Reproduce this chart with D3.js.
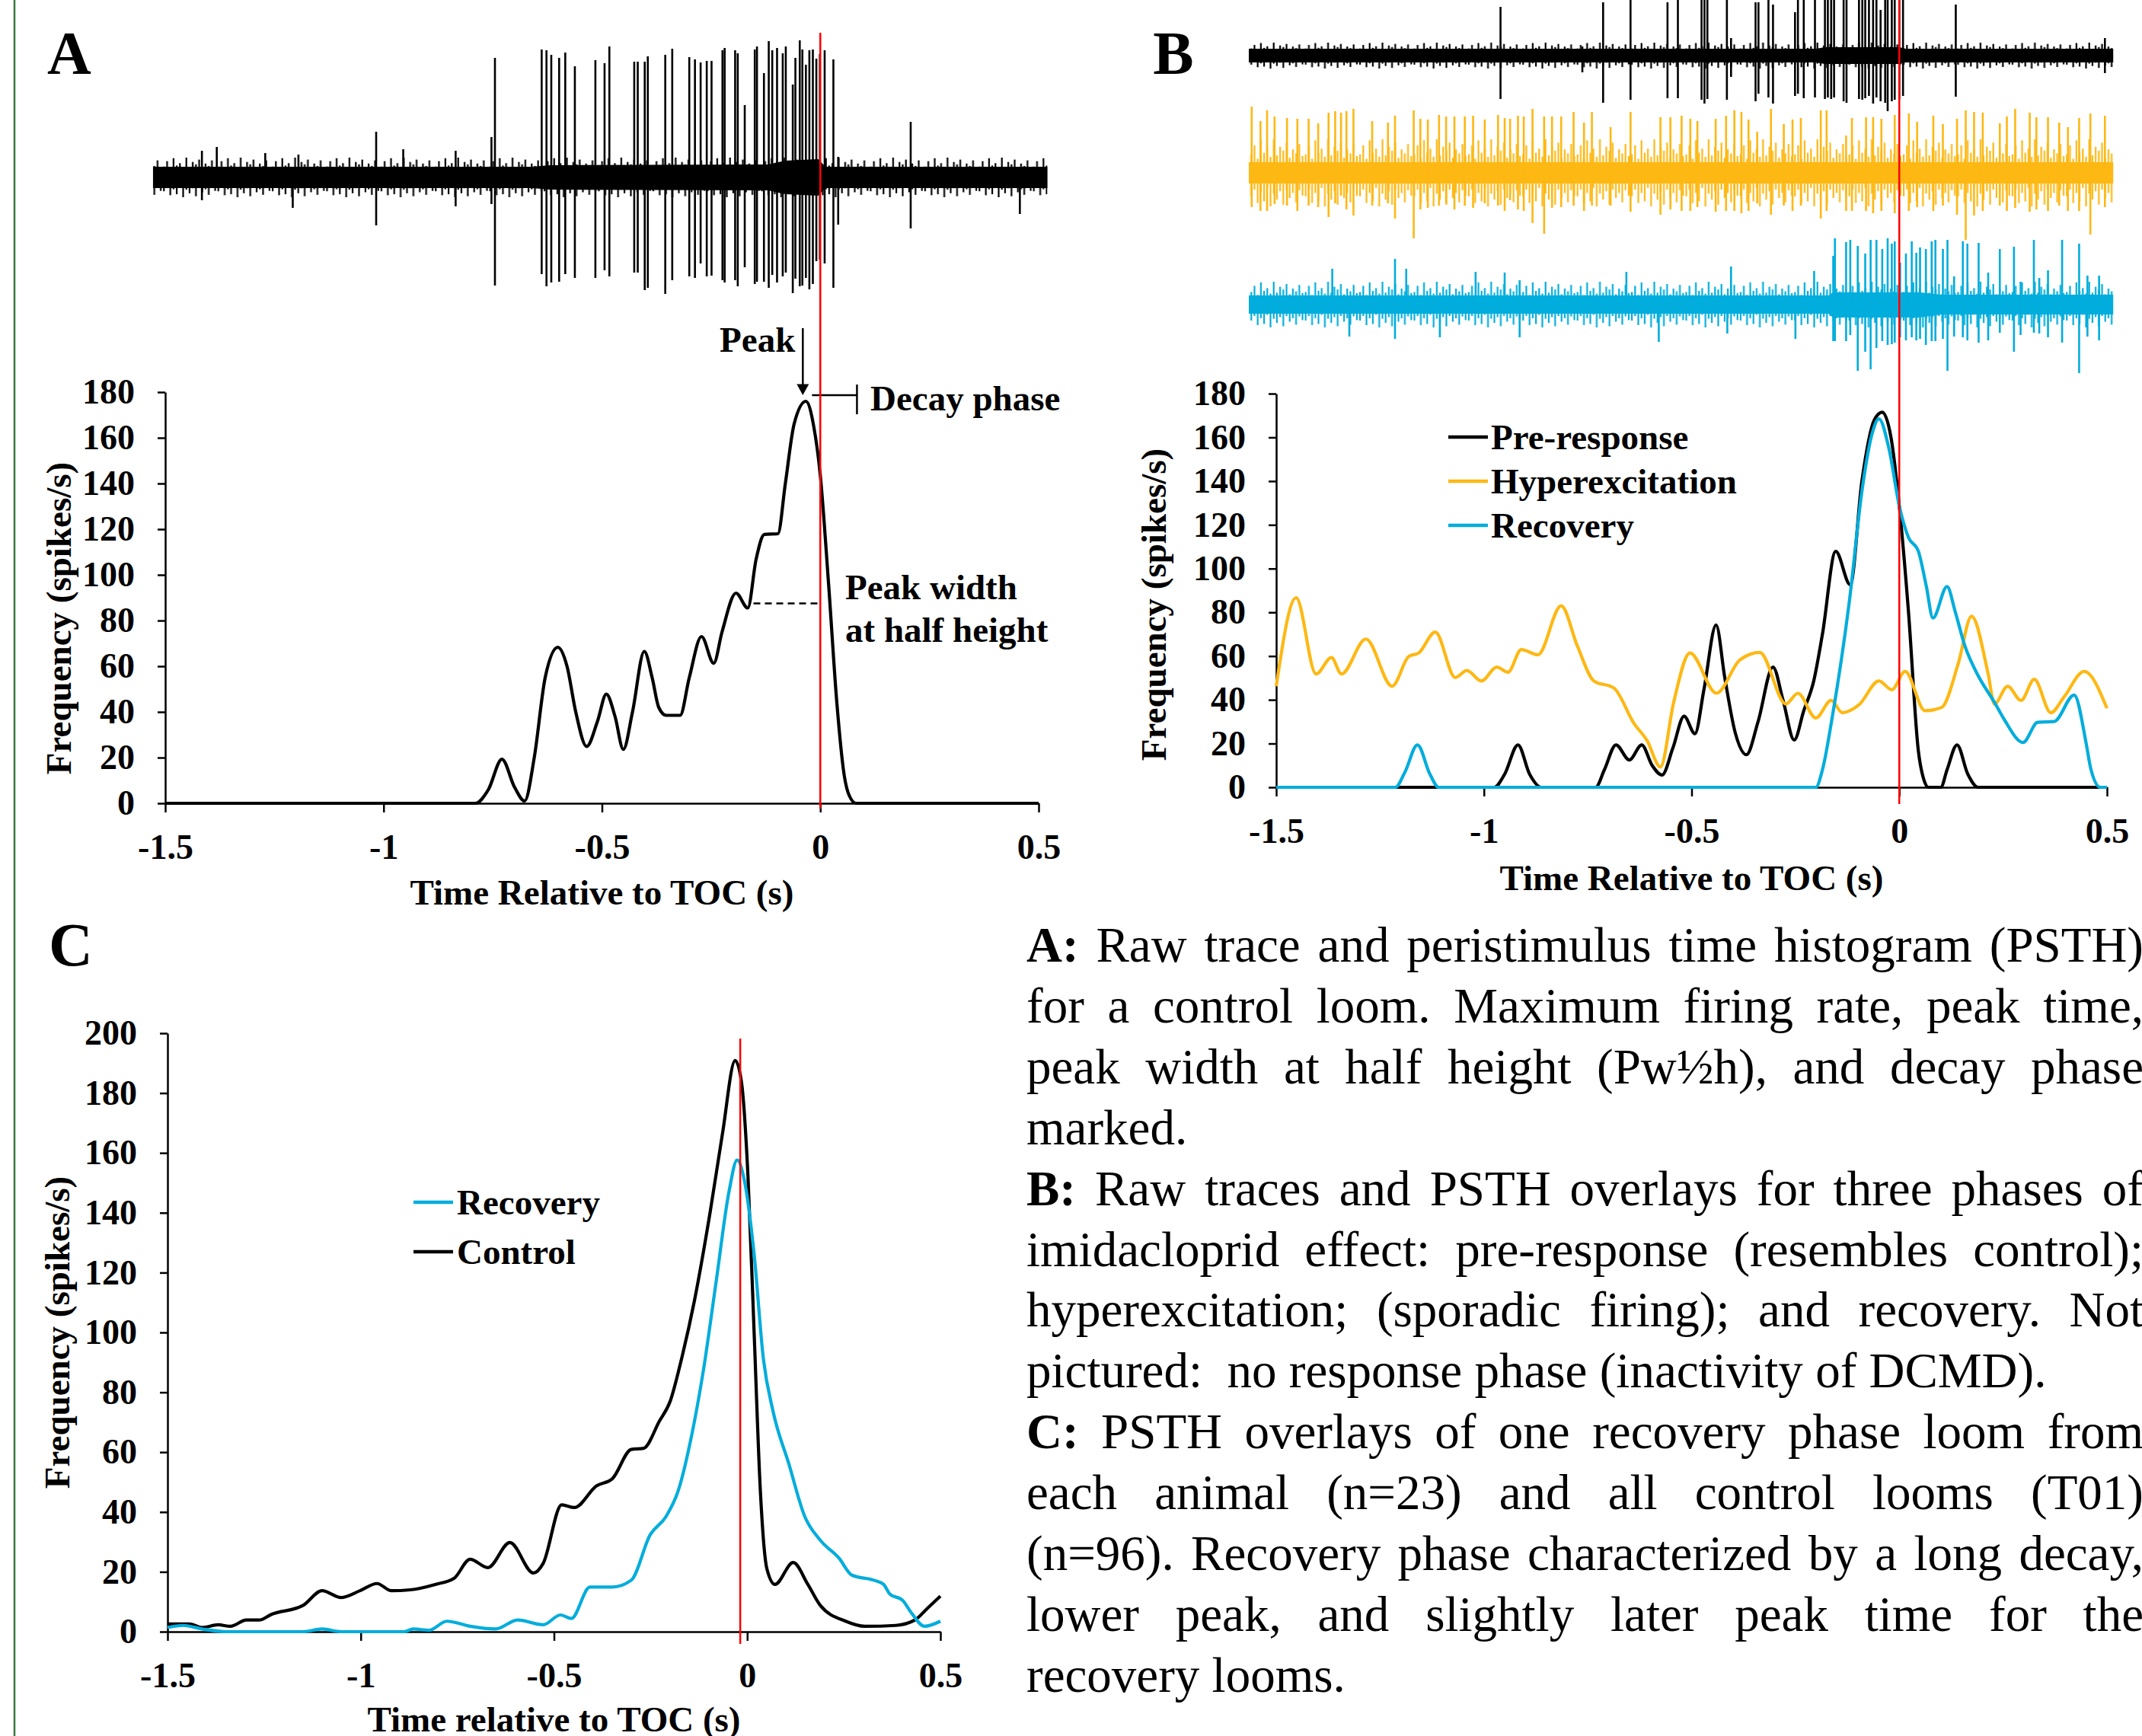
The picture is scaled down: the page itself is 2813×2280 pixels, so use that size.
<!DOCTYPE html>
<html><head><meta charset="utf-8">
<script src="https://cdn.jsdelivr.net/npm/d3@7"></script>
<style>
body{margin:0;background:#fff}
svg{display:block;background:#fff}
text{font-family:"Liberation Serif","Times New Roman",serif;fill:#000}
</style>
</head><body>
<svg id="fig" width="2813" height="2280"></svg>
<script>
// ---------------- DATA ----------------
const xTickVals = [-1.5, -1, -0.5, 0, 0.5];
const xTickLabels = ["-1.5", "-1", "-0.5", "0", "0.5"];
const yTicksAB = [0, 20, 40, 60, 80, 100, 120, 140, 160, 180];
const yTicksC = [0, 20, 40, 60, 80, 100, 120, 140, 160, 180, 200];

// Panel A PSTH (control loom)
const psthA_t = [-1.5,-0.79,-0.76,-0.729,-0.70,-0.677,-0.655,-0.63,-0.601,-0.58,-0.56,-0.535,-0.51,-0.49,-0.47,-0.451,-0.43,-0.403,-0.385,-0.37,-0.353,-0.321,-0.30,-0.272,-0.244,-0.225,-0.193,-0.166,-0.147,-0.128,-0.097,-0.08,-0.06,-0.033,-0.015,0,0.019,0.038,0.055,0.066,0.082,0.5];
const psthA_f = [0,0,6,19.3,7,1,20,55,68.3,60,40,24.9,36,47.8,38,23.6,40,66.5,55,42,38.5,38.5,55,73,61.3,75,92,85.5,106.8,117.7,118,140,166,176,165,143.6,96,43.8,12,3.5,0,0];

// Panel B PSTHs
const preB_t = [-1.5,-0.975,-0.95,-0.918,-0.89,-0.862,-0.731,-0.71,-0.682,-0.65,-0.62,-0.595,-0.571,-0.545,-0.518,-0.492,-0.47,-0.441,-0.42,-0.395,-0.368,-0.34,-0.304,-0.28,-0.253,-0.23,-0.206,-0.185,-0.153,-0.118,-0.09,-0.06,-0.041,-0.02,0,0.022,0.046,0.06,0.07,0.1,0.115,0.139,0.165,0.19,0.5];
const preB_f = [0,0,6,19.4,6,0,0,8,19.4,12.5,19.4,10,5.6,18,32.5,24.5,45,74.2,50,25,14.9,30,55,40,21.6,35,48.6,70,107.9,92.6,140,168,171.5,160,128.7,80.6,16.5,3,0,0,8,19.4,6,0,0];
const hypB_t = [-1.5,-1.452,-1.404,-1.367,-1.343,-1.284,-1.221,-1.181,-1.157,-1.117,-1.069,-1.041,-1.006,-0.969,-0.942,-0.91,-0.87,-0.814,-0.775,-0.735,-0.687,-0.639,-0.607,-0.575,-0.543,-0.504,-0.44,-0.384,-0.336,-0.273,-0.244,-0.201,-0.164,-0.137,-0.097,-0.049,-0.018,0.014,0.062,0.102,0.142,0.174,0.214,0.229,0.261,0.293,0.325,0.365,0.397,0.445,0.5];
const hypB_f = [46.2,86.7,51.8,59.3,51.8,67.8,46.2,59.8,61.4,71,50.2,53.4,48.6,55,52.6,63,60.6,83,64.6,48.6,45.4,29.3,21.3,9.3,39,61.4,43,58.2,61.7,38.1,43,31.7,39.7,34.1,37.7,48.6,44.6,53,35,36.5,56.6,78.2,51.8,38.1,46.2,39.7,49.4,34.1,41.4,53,36.1];
const recB_t = [-1.5,-1.213,-1.19,-1.16,-1.13,-1.109,-0.201,-0.185,-0.161,-0.121,-0.089,-0.065,-0.049,-0.025,0,0.022,0.046,0.065,0.081,0.115,0.135,0.158,0.19,0.229,0.253,0.298,0.333,0.373,0.421,0.45,0.461,0.484,0.5];
const recB_f = [0,0,7,19.4,6,0,0,8,32.5,83.8,136.7,162,168.5,155,128.7,114.3,107.9,92,77.4,91.8,80,64.6,51,38.9,30.9,20.5,29.7,30.1,42.2,20,8.5,0,0];

// Panel C PSTHs
const ctrlC_t = [-1.5,-1.443,-1.41,-1.369,-1.337,-1.296,-1.263,-1.231,-1.149,-1.1,-1.051,-1.002,-0.958,-0.921,-0.872,-0.807,-0.758,-0.717,-0.671,-0.614,-0.553,-0.528,-0.48,-0.447,-0.39,-0.349,-0.3,-0.268,-0.227,-0.199,-0.17,-0.137,-0.096,-0.064,-0.031,-0.015,0.002,0.018,0.034,0.051,0.072,0.119,0.157,0.189,0.255,0.304,0.385,0.434,0.467,0.5];
const ctrlC_f = [2.6,2.6,1.4,2.3,1.8,3.9,3.9,5.8,8.8,13.7,11.4,13.7,16.1,13.7,14,15.8,17.9,24.2,21.4,29.8,19.6,22.8,42.4,41.5,48.7,51.1,60.9,61.3,70.4,77.1,91.1,110.3,140.1,166.4,190.9,183.9,152.4,99.8,47.3,21,15.8,23.1,15.8,8.8,3.5,1.8,2.1,3.9,7.9,11.9];
const recC_t = [-1.5,-1.459,-1.41,-1.345,-1.149,-1.1,-1.051,-0.888,-0.864,-0.823,-0.777,-0.717,-0.651,-0.594,-0.528,-0.483,-0.455,-0.407,-0.349,-0.3,-0.251,-0.21,-0.178,-0.145,-0.113,-0.08,-0.047,-0.026,-0.007,0.018,0.042,0.067,0.108,0.149,0.189,0.238,0.271,0.328,0.353,0.369,0.402,0.426,0.459,0.5];
const recC_f = [1.4,2.1,0.9,0,0,0.9,0,0,0.9,0.5,3.5,1.8,0.9,3.9,2.3,5.6,4.4,14.9,14.9,17.2,32.4,38.5,47.3,64.8,87.6,117.3,147.1,157.6,150.6,126.1,91.1,73.6,56,38.5,30.6,24.5,18.9,17.2,15.8,12.6,10.5,6.1,1.8,3.5];

// Raw traces: spike times (s re TOC), up / down amplitudes (a.u.), solid-core envelopes, noise extent
const trA_t = [-1.416,-1.382,-1.271,-1.208,-1.195,-1.017,-0.955,-0.835,-0.753,-0.745,-0.638,-0.627,-0.616,-0.598,-0.584,-0.562,-0.515,-0.494,-0.483,-0.426,-0.418,-0.402,-0.395,-0.355,-0.339,-0.300,-0.287,-0.274,-0.260,-0.249,-0.224,-0.219,-0.195,-0.189,-0.173,-0.150,-0.145,-0.129,-0.118,-0.110,-0.099,-0.086,-0.079,-0.063,-0.057,-0.047,-0.041,-0.033,-0.025,-0.017,-0.009,-0.001,0.010,0.030,0.041,0.207,0.457];
const trA_up = [35,40,32,0,30,60,37,35,53,157,168,167,161,157,164,146,154,150,172,152,152,152,159,161,169,158,155,151,153,153,167,170,167,163,95,168,172,137,179,167,170,163,172,122,157,180,168,148,167,168,156,162,167,155,27,73,0];
const trA_dn = [30,0,0,40,0,63,0,38,35,142,127,143,138,137,127,132,132,122,130,125,125,148,145,153,135,130,132,113,130,129,135,138,135,143,118,140,137,137,145,128,138,130,125,152,133,143,142,132,147,140,110,108,113,145,62,67,48];
const envA_t = [-1.528,-0.66,-0.62,-0.12,-0.08,-0.005,0.012,0.52];
const envA_up = [14,14,16,17,22,24,14,14];
const envA_dn = [14,14,16,17,22,24,14,14];
const noiseA = 26;

const trBk_t = [-0.960,-0.763,-0.713,-0.647,-0.558,-0.533,-0.476,-0.469,-0.462,-0.415,-0.405,-0.346,-0.339,-0.315,-0.304,-0.251,-0.244,-0.230,-0.203,-0.179,-0.172,-0.164,-0.157,-0.134,-0.127,-0.097,-0.089,-0.082,-0.073,-0.063,-0.055,-0.045,-0.034,-0.028,-0.018,-0.011,0.000,0.009,0.136,0.495];
const trBk_up = [64,0,70,78,70,78,78,78,78,78,23,70,70,78,67,57,78,78,78,78,78,78,78,78,78,78,78,78,78,78,78,60,78,78,78,78,78,78,67,23];
const trBk_dn = [57,22,62,58,56,56,58,63,57,58,28,60,50,55,63,53,50,56,55,57,55,57,55,60,62,57,58,56,53,63,55,60,62,73,60,58,57,53,54,23];
const envBk_t = [-1.566,-0.2,-0.18,0.0,0.015,0.515];
const envBk_up = [9,9,11,11,9,9];
const envBk_dn = [9,9,11,11,9,9];
const noiseBk = 17;

const trOr_t = [-1.559,-1.538,-1.522,-1.504,-1.474,-1.449,-1.422,-1.399,-1.374,-1.358,-1.344,-1.331,-1.314,-1.269,-1.231,-1.214,-1.169,-1.153,-1.135,-1.108,-1.091,-1.071,-1.046,-1.026,-0.998,-0.966,-0.950,-0.937,-0.918,-0.904,-0.883,-0.855,-0.836,-0.814,-0.784,-0.759,-0.740,-0.695,-0.647,-0.575,-0.551,-0.524,-0.503,-0.486,-0.442,-0.417,-0.397,-0.380,-0.363,-0.342,-0.309,-0.278,-0.257,-0.237,-0.189,-0.175,-0.128,-0.114,-0.080,-0.063,-0.043,-0.011,0.023,0.043,0.082,0.105,0.139,0.160,0.180,0.201,0.242,0.259,0.279,0.314,0.330,0.358,0.385,0.406,0.433,0.460,0.495];
const trOr_up = [87,68,82,74,72,71,71,65,79,81,79,81,84,68,66,75,82,71,70,76,74,74,74,75,70,76,72,71,75,74,84,74,74,74,80,66,80,60,80,73,73,75,71,68,71,75,82,80,70,54,84,64,70,72,82,82,49,72,73,73,71,76,78,67,75,64,71,82,80,79,65,74,84,79,73,73,66,60,72,78,75];
const trOr_dn = [45,50,50,41,43,50,43,45,58,40,30,48,56,43,40,60,86,48,46,43,40,48,43,46,40,43,50,36,48,50,66,80,46,45,43,50,43,43,51,55,48,50,50,45,51,50,50,53,50,40,55,43,50,43,60,50,50,50,50,53,50,53,50,45,50,43,55,88,56,50,43,50,46,51,48,50,43,50,50,81,45];
const envOr_t = [-1.566,0.515];
const envOr_up = [14,14];
const envOr_dn = [14,14];
const noiseOr = 44;

const trBl_t = [-1.365,-1.324,-1.214,-1.187,-1.106,-1.020,-0.950,-0.914,-0.657,-0.579,-0.414,-0.405,-0.250,-0.205,-0.159,-0.155,-0.128,-0.118,-0.100,-0.082,-0.069,-0.055,-0.041,-0.028,-0.018,-0.011,0.002,0.016,0.030,0.041,0.050,0.064,0.078,0.087,0.105,0.116,0.132,0.153,0.164,0.191,0.214,0.242,0.276,0.292,0.324,0.337,0.358,0.392,0.433,0.453,0.481];
const trBl_up = [47,0,60,47,0,43,42,32,43,0,0,50,0,44,64,87,82,85,77,67,85,85,73,87,80,83,55,67,83,68,75,73,83,85,73,85,37,83,80,81,42,73,76,30,85,35,45,85,80,38,38];
const trBl_dn = [0,42,45,0,43,0,0,43,0,49,38,0,45,0,48,48,48,40,87,62,85,57,48,53,52,50,43,47,43,47,45,53,48,48,45,87,42,43,47,50,47,37,62,40,37,38,43,50,90,42,47];
const envBl_t = [-1.566,-0.17,-0.16,0.05,0.1,0.515];
const envBl_up = [12,12,16,16,13,13];
const envBl_dn = [12,12,17,17,13,13];
const noiseBl = 30;

const legendB = ["Pre-response", "Hyperexcitation", "Recovery"];
const legendC = ["Recovery", "Control"];

const captionLines = [
  {b:"A:", t:"Raw trace and peristimulus time histogram (PSTH)", j:true},
  {b:"",   t:"for a control loom. Maximum firing rate, peak time,", j:true},
  {b:"",   t:"peak width at half height (Pw\u00BDh), and decay phase", j:true},
  {b:"",   t:"marked.", j:false},
  {b:"B:", t:"Raw traces and PSTH overlays for three phases of", j:true},
  {b:"",   t:"imidacloprid effect: pre-response (resembles control);", j:true},
  {b:"",   t:"hyperexcitation; (sporadic firing); and recovery. Not", j:true},
  {b:"",   t:"pictured:  no response phase (inactivity of DCMD).", j:false},
  {b:"C:", t:"PSTH overlays of one recovery phase loom from", j:true},
  {b:"",   t:"each animal (n=23) and all control looms (T01)", j:true},
  {b:"",   t:"(n=96). Recovery phase characterized by a long decay,", j:true},
  {b:"",   t:"lower peak, and slightly later peak time for the", j:true},
  {b:"",   t:"recovery looms.", j:false}
];

// ---------------- STYLE ----------------
const BLACK = "#000", ORANGE = "#FDB813", BLUE = "#00ADDC", RED = "#FF0000";
const FS = 46;
// texture used to render baseline recording noise (pure styling)
const texUp = [0.55,0.82,0.42,0.97,0.6,0.72,0.48,1.0,0.52,0.78,0.66,0.9,0.45,0.7,0.58,0.86,0.5];
const texDn = [0.7,0.5,0.9,0.6,0.85,0.45,1.0,0.62,0.8,0.55,0.95,0.5,0.75,0.6,0.88,0.52,0.68];

const svg = d3.select("#fig");
const defs = svg.append("defs");
svg.append("rect").attr("width", 2813).attr("height", 2280).attr("fill", "#fff");
svg.append("line").attr("x1", 19).attr("x2", 19).attr("y1", 0).attr("y2", 2280)
   .attr("stroke", "#3b7a3b").attr("stroke-width", 2.5);

const zip = (t, f) => t.map((v, i) => [v, f[i]]);
const amp = d3.scaleLinear().domain([0, 100]).range([0, 100]);

function axes(xs, ys, yTicks, xTitle, xTitleY, yTitleX, yTitleY) {
  const gy = svg.append("g").attr("transform", `translate(${xs.range()[0]},0)`)
    .call(d3.axisLeft(ys).tickValues(yTicks).tickSize(10).tickPadding(30).tickSizeOuter(0));
  const gx = svg.append("g").attr("transform", `translate(0,${ys.range()[0]})`)
    .call(d3.axisBottom(xs).tickValues(xTickVals).tickFormat((d, i) => xTickLabels[i])
      .tickSize(12).tickPadding(28).tickSizeOuter(0));
  [gx, gy].forEach(g => {
    g.attr("font-family", null).attr("font-size", null);
    g.select(".domain").attr("stroke", BLACK).attr("stroke-width", 2.5);
    g.selectAll(".tick line").attr("stroke", BLACK).attr("stroke-width", 2.5);
    g.selectAll(".tick text").attr("font-size", FS).attr("font-weight", "bold").attr("fill", BLACK);
  });
  svg.append("text").attr("x", (xs.range()[0] + xs.range()[1]) / 2).attr("y", xTitleY)
    .attr("dy", "0.35em").attr("text-anchor", "middle").attr("font-size", 47).attr("font-weight", "bold").text(xTitle);
  svg.append("text").attr("transform", `translate(${yTitleX},${yTitleY}) rotate(-90)`)
    .attr("dy", "0.35em").attr("text-anchor", "middle").attr("font-size", 47).attr("font-weight", "bold")
    .text("Frequency (spikes/s)");
}

function curve(xs, ys, t, f, color, w) {
  const line = d3.line().x(d => xs(d[0])).y(d => ys(d[1])).curve(d3.curveMonotoneX);
  svg.append("path").datum(zip(t, f)).attr("d", line).attr("fill", "none")
    .attr("stroke", color).attr("stroke-width", w || 4.2).attr("stroke-linejoin", "round");
}

let patN = 0;
function trace(xs, cy, eT, eUp, eDn, noise, sT, sUp, sDn, color) {
  const id = "noise" + (patN++);
  const step = 4.2, tw = step * texUp.length, nh = amp(noise);
  const pat = defs.append("pattern").attr("id", id).attr("patternUnits", "userSpaceOnUse")
    .attr("x", 0).attr("y", cy - nh).attr("width", tw).attr("height", 2 * nh);
  texUp.forEach((u, k) => {
    pat.append("rect").attr("x", k * step).attr("y", nh - nh * u).attr("width", 2.2)
      .attr("height", nh * (u + texDn[k])).attr("fill", color);
  });
  const x0 = xs(eT[0]), x1 = xs(eT[eT.length - 1]);
  svg.append("rect").attr("x", x0).attr("width", x1 - x0).attr("y", cy - nh).attr("height", 2 * nh)
    .attr("fill", `url(#${id})`);
  const env = eT.map((t, i) => ({t, up: eUp[i], dn: eDn[i]}));
  const area = d3.area().x(d => xs(d.t)).y0(d => cy + amp(d.dn)).y1(d => cy - amp(d.up));
  svg.append("path").datum(env).attr("d", area).attr("fill", color);
  svg.append("g").selectAll("line").data(sT.map((t, i) => ({t, up: sUp[i], dn: sDn[i]}))).join("line")
    .attr("x1", d => xs(d.t)).attr("x2", d => xs(d.t))
    .attr("y1", d => cy - amp(Math.max(d.up, 12))).attr("y2", d => cy + amp(Math.max(d.dn, 12)))
    .attr("stroke", color).attr("stroke-width", 2.6);
}

// ---------------- PANEL A ----------------
const xA = d3.scaleLinear().domain([-1.5, 0.5]).range([217, 1364]);
const yA = d3.scaleLinear().domain([0, 180]).range([1055, 515]);
svg.append("text").attr("x", 91).attr("y", 97).attr("text-anchor", "middle")
  .attr("font-size", 80).attr("font-weight", "bold").text("A");
trace(xA, 233, envA_t, envA_up, envA_dn, noiseA, trA_t, trA_up, trA_dn, BLACK);
axes(xA, yA, yTicksAB, "Time Relative to TOC (s)", 1172, 77, 812);
curve(xA, yA, psthA_t, psthA_f, BLACK);
// annotations
svg.append("line").attr("x1", xA(-0.153)).attr("x2", xA(-0.003)).attr("y1", yA(87.5)).attr("y2", yA(87.5))
  .attr("stroke", BLACK).attr("stroke-width", 2.5).attr("stroke-dasharray", "9,6");
svg.append("line").attr("x1", xA(-0.04)).attr("x2", xA(-0.04)).attr("y1", yA(208)).attr("y2", yA(183))
  .attr("stroke", BLACK).attr("stroke-width", 2.5);
svg.append("path").attr("d", `M${xA(-0.04)-8},${yA(183.5)} L${xA(-0.04)+8},${yA(183.5)} L${xA(-0.04)},${yA(178.7)} Z`)
  .attr("fill", BLACK);
svg.append("line").attr("x1", xA(-0.019)).attr("x2", xA(0.084)).attr("y1", yA(178.7)).attr("y2", yA(178.7))
  .attr("stroke", BLACK).attr("stroke-width", 2.5);
svg.append("line").attr("x1", xA(0.084)).attr("x2", xA(0.084)).attr("y1", yA(183.3)).attr("y2", yA(170.3))
  .attr("stroke", BLACK).attr("stroke-width", 2.5);
svg.append("text").attr("x", xA(-0.04) - 10).attr("y", 462).attr("text-anchor", "end")
  .attr("font-size", 47).attr("font-weight", "bold").text("Peak");
svg.append("text").attr("x", 1143).attr("y", 539).attr("font-size", 47).attr("font-weight", "bold").text("Decay phase");
svg.append("text").attr("x", 1110).attr("y", 787).attr("font-size", 47).attr("font-weight", "bold").text("Peak width");
svg.append("text").attr("x", 1110).attr("y", 843).attr("font-size", 47).attr("font-weight", "bold").text("at half height");
svg.append("line").attr("x1", xA(0)).attr("x2", xA(0)).attr("y1", 43).attr("y2", 1062)
  .attr("stroke", RED).attr("stroke-width", 2.5);

// ---------------- PANEL B ----------------
const xB = d3.scaleLinear().domain([-1.5, 0.5]).range([1676, 2767]);
const yB = d3.scaleLinear().domain([0, 180]).range([1034, 517]);
svg.append("text").attr("x", 1541).attr("y", 97).attr("text-anchor", "middle")
  .attr("font-size", 80).attr("font-weight", "bold").text("B");
trace(xB, 73, envBk_t, envBk_up, envBk_dn, noiseBk, trBk_t, trBk_up, trBk_dn, BLACK);
trace(xB, 227, envOr_t, envOr_up, envOr_dn, noiseOr, trOr_t, trOr_up, trOr_dn, ORANGE);
trace(xB, 400, envBl_t, envBl_up, envBl_dn, noiseBl, trBl_t, trBl_up, trBl_dn, BLUE);
axes(xB, yB, yTicksAB, "Time Relative to TOC (s)", 1153, 1515, 794);
curve(xB, yB, preB_t, preB_f, BLACK);
curve(xB, yB, hypB_t, hypB_f, ORANGE);
curve(xB, yB, recB_t, recB_f, BLUE);
const legColB = [BLACK, ORANGE, BLUE];
legendB.forEach((name, i) => {
  const y = 574 + i * 58;
  svg.append("line").attr("x1", 1902).attr("x2", 1954).attr("y1", y).attr("y2", y)
    .attr("stroke", legColB[i]).attr("stroke-width", 4.5);
  svg.append("text").attr("x", 1958).attr("y", y).attr("dy", "0.35em")
    .attr("font-size", 47).attr("font-weight", "bold").text(name);
});
svg.append("line").attr("x1", xB(0)).attr("x2", xB(0)).attr("y1", 0).attr("y2", 1056)
  .attr("stroke", RED).attr("stroke-width", 2.5);

// ---------------- PANEL C ----------------
const xC = d3.scaleLinear().domain([-1.5, 0.5]).range([220, 1235]);
const yC = d3.scaleLinear().domain([0, 200]).range([2143, 1357]);
svg.append("text").attr("x", 93).attr("y", 1268).attr("text-anchor", "middle")
  .attr("font-size", 80).attr("font-weight", "bold").text("C");
axes(xC, yC, yTicksC, "Time relative to TOC (s)", 2258, 75, 1750);
curve(xC, yC, ctrlC_t, ctrlC_f, BLACK);
curve(xC, yC, recC_t, recC_f, BLUE);
const legColC = [BLUE, BLACK];
legendC.forEach((name, i) => {
  const y = 1579 + i * 65;
  svg.append("line").attr("x1", 543).attr("x2", 595).attr("y1", y).attr("y2", y)
    .attr("stroke", legColC[i]).attr("stroke-width", 4.5);
  svg.append("text").attr("x", 600).attr("y", y).attr("dy", "0.35em")
    .attr("font-size", 47).attr("font-weight", "bold").text(name);
});
svg.append("line").attr("x1", xC(-0.018)).attr("x2", xC(-0.018)).attr("y1", 1364).attr("y2", 2159)
  .attr("stroke", RED).attr("stroke-width", 2.5);

// ---------------- CAPTION ----------------
const capX = 1348, capR = 2815, capY0 = 1263, capLead = 79.9, capFs = 65;
captionLines.forEach((ln, i) => {
  const words = [];
  if (ln.b) words.push({w: ln.b, bold: true});
  ln.t.split(" ").forEach(w => words.push({w, bold: false}));
  const txt = svg.append("text").attr("y", capY0 + i * capLead).attr("font-size", capFs);
  const spans = words.map(wd => txt.append("tspan").attr("font-weight", wd.bold ? "bold" : "normal").text(wd.w));
  const widths = spans.map(s => s.node().getComputedTextLength());
  const total = d3.sum(widths);
  const gap = ln.j ? (capR - capX - total) / (words.length - 1) : capFs * 0.25;
  let x = capX;
  spans.forEach((s, k) => { s.attr("x", x); x += widths[k] + gap; });
});
</script>
</body></html>
